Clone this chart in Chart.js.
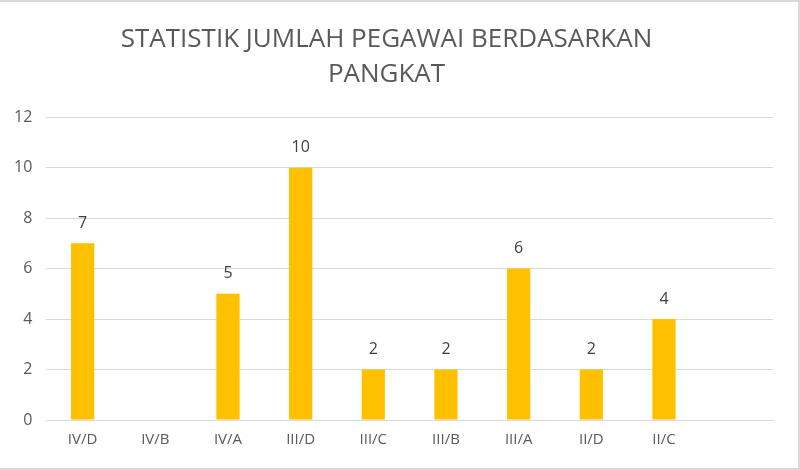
<!DOCTYPE html>
<html>
<head>
<meta charset="utf-8">
<script src="https://cdn.jsdelivr.net/npm/chart.js@4/dist/chart.umd.min.js"></script>
<style>
  html, body { margin: 0; padding: 0; background: #fff; }
  #wrap {
    position: relative; width: 800px; height: 470px; box-sizing: border-box;
    border-top: 2px solid #d9d9d9; border-right: 2px solid #d9d9d9; border-bottom: 2px solid #d9d9d9;
  }
</style>
</head>
<body>
<div id="wrap"><canvas id="chart"></canvas></div>
<script>
'use strict';

// ── Data ───────────────────────────────────────────────────────────────────────

const TITLE_LINES = ['STATISTIK JUMLAH PEGAWAI BERDASARKAN', 'PANGKAT'];
const CATEGORIES = ['IV/D', 'IV/B', 'IV/A', 'III/D', 'III/C', 'III/B', 'III/A', 'II/D', 'II/C', ''];
const JUMLAH = [7, null, 5, 10, 2, 2, 6, 2, 4, null];
const Y_TICKS = [0, 2, 4, 6, 8, 10, 12];

const GREY = '#595959';
const BAR_COLOR = '#ffc000';

// ── Value labels above bars ───────────────────────────────────────────────────

const valueLabels = {
  id: 'valueLabels',
  afterDatasetsDraw(chart) {
    const { ctx } = chart;
    const meta = chart.getDatasetMeta(0);
    ctx.save();
    ctx.fillStyle = '#404040';
    ctx.font = '16px "Open Sans", sans-serif';
    ctx.textAlign = 'center';
    ctx.textBaseline = 'middle';
    meta.data.forEach((bar, i) => {
      const v = JUMLAH[i];
      if (v == null) return;
      ctx.fillText(String(v), bar.x, bar.y - 20);
    });
    ctx.restore();
  },
};

const canvas = document.getElementById('chart');

new Chart(canvas, {
  type: 'bar',
  data: {
    labels: CATEGORIES,
    datasets: [{
      data: JUMLAH,
      backgroundColor: BAR_COLOR,
      categoryPercentage: 1,
      barPercentage: 0.32,
    }],
  },
  options: {
    responsive: true,
    maintainAspectRatio: false,
    animation: false,
    layout: { padding: { left: 0, right: 25, top: 8, bottom: 16 } },
    plugins: {
      legend: { display: false },
      tooltip: { enabled: false },
      title: {
        display: true,
        text: TITLE_LINES,
        color: GREY,
        font: { family: '"Open Sans", sans-serif', size: 26, weight: 'normal', lineHeight: 1.35 },
        padding: { top: 12, bottom: 25 },
      },
    },
    scales: {
      x: {
        grid: { display: false },
        border: { color: '#d9d9d9', width: 1 },
        ticks: { color: GREY, font: { family: '"Open Sans", sans-serif', size: 15 }, maxRotation: 0, padding: 3 },
      },
      y: {
        min: 0,
        max: 12,
        afterBuildTicks(axis) { axis.ticks = Y_TICKS.map(v => ({ value: v })); },
        grid: { color: '#d9d9d9', lineWidth: 1, drawTicks: false },
        border: { display: false },
        ticks: { color: GREY, font: { family: '"Open Sans", sans-serif', size: 16 }, padding: 14 },
      },
    },
  },
  plugins: [valueLabels],
});
</script>
</body>
</html>
